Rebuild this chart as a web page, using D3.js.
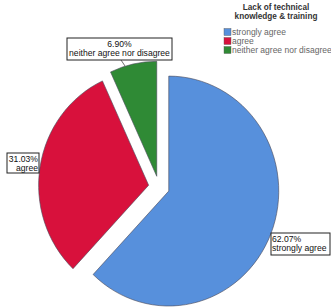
<!DOCTYPE html>
<html>
<head>
<meta charset="utf-8">
<script src="https://cdn.jsdelivr.net/npm/d3@7"></script>
<style>
  body { margin: 0; background: #fff; }
  text { font-family: "Liberation Sans", Arial, sans-serif; }
</style>
</head>
<body>
<div id="container"></div>
<script>
/* DATA */
const categories = ["strongly agree", "agree", "neither agree nor disagree"];
const percents = [62.07, 31.03, 6.90];
const colors = ["#5790dc", "#d8113c", "#2f8a35"];
const legendTitle = ["Lack of technical", "knowledge & training"];

/* CONSTANTS */
const width = 331, height = 308;
const cx = 159, cy = 187, radius = 110, yStretch = 1.045, explode = 10.5;

const svg = d3.select("#container")
  .append("svg")
  .attr("width", width)
  .attr("height", height);

// PIE
const pie = d3.pie().sort(null).value(d => d)(percents);
const arc = d3.arc().innerRadius(0).outerRadius(radius);

const g = svg.append("g")
  .attr("transform", `translate(${cx},${cy}) scale(1,${yStretch})`);

g.selectAll("path")
  .data(pie)
  .join("path")
  .attr("d", arc)
  .attr("transform", d => {
    const a = (d.startAngle + d.endAngle) / 2;
    return `translate(${Math.sin(a) * explode},${-Math.cos(a) * explode})`;
  })
  .attr("fill", (d, i) => colors[i])
  .attr("stroke", "#4a4a5a")
  .attr("stroke-width", 0.6);

// LABELS (box positions)
const labelPos = [
  { x: 271, y: 233, w: 59, h: 22, anchor: "start" },
  { x: 7, y: 153, w: 32, h: 20, anchor: "end" },
  { x: 67, y: 38, w: 105, h: 22, anchor: "middle" }
];

// leader line for the small slice
svg.append("line")
  .attr("x1", 121).attr("y1", 60)
  .attr("x2", 125).attr("y2", 66)
  .attr("stroke", "#333").attr("stroke-width", 0.7);

labelPos.forEach((p, i) => {
  const lg = svg.append("g");
  lg.append("rect")
    .attr("x", p.x).attr("y", p.y)
    .attr("width", p.w).attr("height", p.h)
    .attr("fill", "#fff")
    .attr("stroke", "#222")
    .attr("stroke-width", 1);
  const tx = p.anchor === "start" ? p.x + 1 : p.anchor === "end" ? p.x + p.w - 1 : p.x + p.w / 2;
  const lines = [percents[i].toFixed(2) + "%", categories[i]];
  lines.forEach((t, j) => {
    lg.append("text")
      .attr("x", tx)
      .attr("y", p.y + 9 + j * 9)
      .attr("text-anchor", p.anchor)
      .attr("font-size", 8.6)
      .attr("fill", "#111")
      .text(t);
  });
});

// LEGEND
const legend = svg.append("g");
legendTitle.forEach((t, j) => {
  legend.append("text")
    .attr("x", 276)
    .attr("y", 10 + j * 8.5)
    .attr("text-anchor", "middle")
    .attr("font-size", 8.2)
    .attr("font-weight", "bold")
    .attr("fill", "#333")
    .text(t);
});
categories.forEach((c, i) => {
  const y = 32 + i * 9;
  legend.append("rect")
    .attr("x", 224).attr("y", y - 3.5)
    .attr("width", 7).attr("height", 7)
    .attr("fill", colors[i])
    .attr("stroke", "#555").attr("stroke-width", 0.4);
  legend.append("text")
    .attr("x", 232).attr("y", y + 3)
    .attr("font-size", 8.5)
    .attr("fill", "#666")
    .text(c);
});
</script>
</body>
</html>
